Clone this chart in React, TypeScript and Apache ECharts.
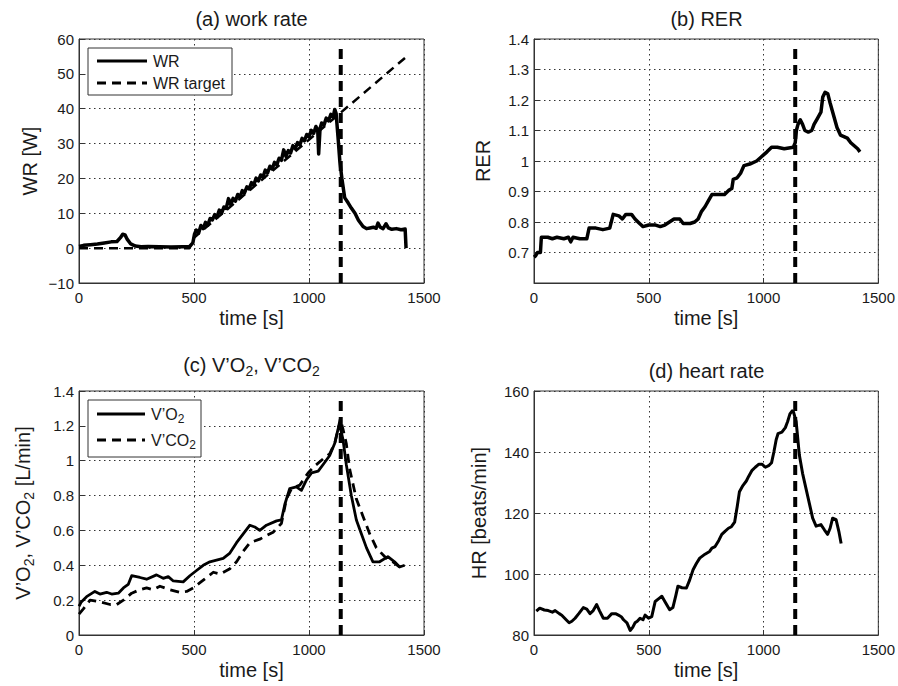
import React, { useEffect, useRef } from "react";
import * as echarts from "echarts";

// ---------- data ----------
const markerTime = 1138;

// (a) work rate
const wrTime = [0, 20, 50, 80, 110, 140, 165, 180, 190, 200, 210, 225, 245, 270, 300, 350, 400, 450, 480, 495, 502,
  510, 520, 530, 540, 550, 560, 570, 580, 590, 600, 610, 620, 630, 640, 650, 660, 670, 680, 690, 700, 710, 720, 730, 740,
  750, 760, 770, 780, 790, 800, 810, 820, 830, 840, 850, 860, 870, 880, 890, 900, 910, 920, 930, 940, 950, 960, 970, 980,
  990, 1000, 1010, 1020, 1030, 1038, 1042, 1048, 1055, 1065, 1075, 1085, 1095, 1105, 1112, 1118,
  1126, 1134, 1143, 1155, 1170, 1184, 1200, 1215, 1235, 1250, 1265, 1280, 1292, 1300, 1310, 1322, 1335, 1345,
  1360, 1380, 1400, 1418, 1422];
const wrValue = [0.5, 0.8, 1.0, 1.2, 1.5, 1.8, 1.9, 3.0, 4.0, 3.8, 2.5, 1.2, 0.6, 0.4, 0.5, 0.4, 0.3, 0.4, 0.4, 1.5, 4.0,
  5.2, 4.3, 6.5, 5.6, 7.4, 6.6, 8.5, 8.1, 9.6, 8.9, 10.9, 10.0, 11.8, 11.4, 14.2, 12.4, 14.3, 13.5, 15.4, 14.6, 16.5, 15.9,
  17.6, 17.0, 18.8, 18.1, 20.1, 19.3, 21.0, 20.4, 22.4, 21.6, 23.5, 22.7, 24.6, 23.9, 25.8, 25.2, 28.2, 26.3, 28.0, 27.3,
  29.4, 28.5, 30.3, 29.6, 31.5, 30.8, 32.6, 31.9, 33.8, 32.9, 34.9, 33.8, 27.0, 34.3, 35.9, 35.3, 37.3, 36.5, 38.4, 37.6,
  39.8, 38.6,
  32.0, 25.0, 20.0, 14.5, 13.0, 11.5, 10.0, 8.0, 6.2, 5.6, 5.8, 6.0, 5.7, 7.2, 6.0, 5.6, 7.0, 5.8,
  5.4, 5.6, 5.3, 5.5, 0];
const wrTargetTime = [0, 480, 500, 1425];
const wrTargetValue = [0, 0, 3, 55];
const wrMarkerRange = [-10, 57.5];

// (b) RER
const rerTime = [0, 8, 15, 28, 32, 60, 80, 100, 130, 150, 160, 170, 200, 230, 240, 270, 300, 330, 345, 370, 385, 400, 425,
  440, 460, 475, 500, 530, 550, 570, 590, 610, 635, 650, 680, 700, 715, 730, 745, 760, 775, 800, 830, 850, 862, 868, 885,
  900, 915, 940, 970, 985, 1000, 1015, 1035, 1060, 1090, 1130, 1138, 1143, 1150, 1160, 1170, 1180, 1195, 1210, 1220, 1235,
  1250, 1258, 1268, 1280, 1290, 1305, 1320, 1335, 1350, 1365, 1380, 1395, 1410, 1420];
const rerValue = [0.685, 0.69, 0.7, 0.7, 0.75, 0.75, 0.745, 0.75, 0.745, 0.75, 0.735, 0.75, 0.745, 0.745, 0.78, 0.78, 0.775,
  0.78, 0.825, 0.82, 0.81, 0.825, 0.825, 0.81, 0.795, 0.785, 0.79, 0.79, 0.785, 0.79, 0.8, 0.81, 0.81, 0.795, 0.795, 0.8,
  0.81, 0.835, 0.85, 0.87, 0.89, 0.89, 0.89, 0.905, 0.91, 0.94, 0.945, 0.96, 0.985, 0.99, 1.0, 1.01, 1.02, 1.03, 1.045,
  1.045, 1.04, 1.045, 1.06, 1.1, 1.12, 1.135, 1.12, 1.1, 1.095, 1.1, 1.12, 1.14, 1.16, 1.21, 1.225, 1.22, 1.19, 1.15, 1.11,
  1.085, 1.08, 1.075, 1.06, 1.05, 1.04, 1.03];
const rerMarkerRange = [0.6, 1.38];

// (c) V'O2, V'CO2
const vo2Time = [0, 10, 33, 69, 91, 120, 142, 171, 193, 214, 229, 265, 294, 337, 366, 388, 410, 453, 482, 511, 540, 569,
  598, 627, 656, 685, 714, 743, 764, 786, 815, 859, 880, 895, 916, 945, 967, 989, 1011, 1040, 1068, 1090, 1112, 1126, 1133,
  1148, 1162, 1184, 1206, 1228, 1250, 1278, 1307, 1343, 1372, 1394, 1416];
const vo2Value = [0.165, 0.19, 0.22, 0.25, 0.235, 0.245, 0.235, 0.24, 0.27, 0.29, 0.34, 0.33, 0.32, 0.345, 0.325, 0.335,
  0.31, 0.305, 0.34, 0.37, 0.4, 0.42, 0.43, 0.44, 0.47, 0.53, 0.58, 0.63, 0.62, 0.6, 0.63, 0.655, 0.66, 0.75, 0.84, 0.85,
  0.83, 0.89, 0.93, 0.94, 0.99, 1.03, 1.1, 1.18, 1.21, 1.12, 0.98, 0.8, 0.66, 0.58, 0.5, 0.42, 0.42, 0.45, 0.42, 0.39, 0.4];
const vco2Time = [0, 19, 48, 91, 135, 164, 193, 229, 265, 294, 323, 352, 395, 439, 468, 497, 526, 555, 584, 613, 656, 685,
  714, 743, 786, 815, 844, 880, 902, 924, 960, 996, 1025, 1061, 1090, 1112, 1126, 1136, 1148, 1162, 1177, 1206, 1235, 1264,
  1293, 1336, 1365, 1394, 1416];
const vco2Value = [0.12, 0.15, 0.2, 0.19, 0.175, 0.175, 0.2, 0.24, 0.26, 0.27, 0.26, 0.28, 0.26, 0.245, 0.25, 0.27, 0.3,
  0.33, 0.36, 0.35, 0.38, 0.42, 0.48, 0.53, 0.55, 0.57, 0.59, 0.64, 0.78, 0.84, 0.86, 0.93, 0.97, 1.01, 1.04, 1.1, 1.18,
  1.24, 1.18, 1.1, 0.95, 0.78, 0.68, 0.58, 0.5, 0.44, 0.42, 0.39, 0.4];
const gasMarkerRange = [0, 1.35];

// (d) heart rate
const hrTime = [10, 25, 45, 62, 80, 92, 110, 121, 140, 153, 165, 179, 195, 215, 230, 244, 258, 273, 285, 302, 320, 339, 355,
  368, 380, 390, 405, 419, 430, 440, 450, 462, 475, 484, 499, 513, 528, 545, 557, 570, 591, 605, 618, 627, 645, 664, 678,
  693, 708, 722, 745, 765, 775, 789, 805, 818, 832, 847, 860, 874, 885, 895, 910, 925, 935, 950, 964, 980, 993, 1008, 1022,
  1035, 1045, 1055, 1063, 1080, 1095, 1105, 1115, 1125, 1131, 1142, 1156, 1170, 1185, 1200, 1214, 1229, 1250, 1265, 1279,
  1290, 1301, 1316, 1328, 1338];
const hrValue = [87.8, 88.8, 88.2, 88, 87.5, 88, 87, 86.5, 85, 84, 84.5, 85.5, 87, 89, 88.5, 87, 88, 90, 88, 85.5, 85.5, 87,
  87, 86.5, 86, 85, 84, 81.5, 82.5, 84, 84.5, 85.5, 85, 86.5, 85.5, 86, 91, 92, 92.7, 91, 88.3, 89, 93, 96, 95.5, 95.4, 98,
  101.4, 103.5, 105.2, 106.5, 107.4, 108.5, 109, 111, 113, 114, 115, 115.5, 117, 122, 127, 129, 130.5, 132, 134, 135, 136,
  136, 135, 135.5, 136.5, 140, 144, 146, 146.5, 148, 150, 152.5, 153.5, 153, 150, 139, 133, 128, 123, 118.3, 115.7, 116.2,
  114.5, 113, 115, 118.3, 117.8, 114, 110];
const hrMarkerRange = [80, 157];

// ---------- helpers ----------
const FONT = "'Liberation Sans', Arial, Helvetica, sans-serif";
const pairs = (t: number[], v: number[]) => t.map((x, i) => [x, v[i]]);
const vline = (r: number[]) => [[markerTime, r[0]], [markerTime, r[1]]];

const grids = [
  { left: 79, top: 39, width: 345, height: 244 },
  { left: 534, top: 39, width: 345, height: 244 },
  { left: 79, top: 391, width: 345, height: 244 },
  { left: 534, top: 391, width: 345, height: 244 },
];

const axisColor = "#333";
const labelColor = "#1a1a1a";
const split = { show: true, lineStyle: { color: "#333", type: [1.5, 3.5], width: 1 } };
const subRich = {
  s: { fontSize: 14, fontFamily: FONT, lineHeight: 14, verticalAlign: "bottom", color: labelColor },
};

function xAxisFor(i: number) {
  return {
    type: "value",
    gridIndex: i,
    min: 0,
    max: 1500,
    interval: 500,
    name: "time [s]",
    nameLocation: "middle",
    nameGap: 25,
    nameTextStyle: { fontSize: 20, fontFamily: FONT, color: labelColor },
    axisLine: { show: true, onZero: false, lineStyle: { color: axisColor, width: 1 } },
    axisTick: { show: true, inside: true, length: 5, lineStyle: { color: axisColor } },
    axisLabel: { fontSize: 15, fontFamily: FONT, color: labelColor, margin: 7, formatter: (v: number) => String(Math.round(v)) },
    splitLine: split,
  };
}

function yAxisFor(i: number, min: number, max: number, interval: number, name: string, gap: number, fmt: (v: number) => string, showMin = true) {
  return {
    type: "value",
    gridIndex: i,
    min,
    max,
    interval,
    name,
    nameLocation: "middle",
    nameGap: gap,
    nameTextStyle: { fontSize: 20, fontFamily: FONT, color: labelColor, lineHeight: 26, rich: subRich },
    axisLine: { show: true, onZero: false, lineStyle: { color: axisColor, width: 1 } },
    axisTick: { show: true, inside: true, length: 5, lineStyle: { color: axisColor } },
    axisLabel: { fontSize: 15, fontFamily: FONT, color: labelColor, margin: 5, formatter: fmt, showMinLabel: showMin },
    splitLine: split,
  };
}

function lineSeries(name: string, data: number[][], i: number, width: number, dash?: number[]) {
  return {
    type: "line",
    name,
    data,
    xAxisIndex: i,
    yAxisIndex: i,
    symbol: "none",
    showSymbol: false,
    clip: true,
    lineStyle: { color: "#000", width, type: dash ? dash : "solid", cap: "butt", join: "round" },
  };
}

function titleText(x: number, y: number, text: string) {
  return {
    type: "text",
    x,
    y,
    z: 100,
    style: {
      text,
      fontSize: 20,
      fontFamily: FONT,
      fill: labelColor,
      align: "center",
      textAlign: "center",
      verticalAlign: "middle",
      textVerticalAlign: "middle",
      lineHeight: 26,
      rich: { s: { fontSize: 14, fontFamily: FONT, lineHeight: 14, verticalAlign: "bottom", fill: labelColor, color: labelColor } },
    },
  };
}

function legendText(x: number, y: number, text: string) {
  return {
    type: "text",
    x,
    y,
    z: 101,
    style: {
      text,
      fontSize: 16,
      fontFamily: FONT,
      fill: labelColor,
      align: "left",
      textAlign: "left",
      verticalAlign: "middle",
      textVerticalAlign: "middle",
      lineHeight: 22,
      rich: { s: { fontSize: 12, fontFamily: FONT, lineHeight: 12, verticalAlign: "bottom", fill: labelColor, color: labelColor } },
    },
  };
}

function legendLine(x1: number, x2: number, y: number, dash?: number[]) {
  return {
    type: "line",
    z: 101,
    shape: { x1, y1: y, x2, y2: y },
    style: { stroke: "#000", lineWidth: 3, lineDash: dash || null },
  };
}

const fmt1 = (v: number) => String(+v.toFixed(1));
const fmtInt = (v: number) => (v < 0 ? "\u2212" + Math.abs(Math.round(v)) : String(Math.round(v)));

export default function App() {
  const ref = useRef<HTMLDivElement>(null);
  useEffect(() => {
    if (!ref.current) return;
    const chart = echarts.init(ref.current, undefined, { renderer: "svg" });
    const dash = [9, 6];
    const markDash = [10, 6];
    chart.setOption({
      animation: false,
      backgroundColor: "#fff",
      textStyle: { fontFamily: FONT },
      grid: grids.map((g) => ({ ...g, show: true, borderColor: axisColor, borderWidth: 1, backgroundColor: "transparent" })),
      xAxis: [0, 1, 2, 3].map((i) => xAxisFor(i)),
      yAxis: [
        yAxisFor(0, -10, 60, 10, "WR [W]", 36, fmtInt),
        yAxisFor(1, 0.6, 1.4, 0.1, "RER", 38, fmt1, false),
        yAxisFor(2, 0, 1.4, 0.2, "V\u2019O{s|2}, V\u2019CO{s|2} [L/min]", 43, fmt1),
        yAxisFor(3, 80, 160, 20, "HR [beats/min]", 42, fmtInt),
      ],
      series: [
        lineSeries("WR", pairs(wrTime, wrValue), 0, 3.5),
        lineSeries("WR target", pairs(wrTargetTime, wrTargetValue), 0, 2.5, dash),
        lineSeries("marker a", vline(wrMarkerRange), 0, 4, markDash),
        lineSeries("RER", pairs(rerTime, rerValue), 1, 3.5),
        lineSeries("marker b", vline(rerMarkerRange), 1, 4, markDash),
        lineSeries("V'O2", pairs(vo2Time, vo2Value), 2, 2.8),
        lineSeries("V'CO2", pairs(vco2Time, vco2Value), 2, 2.8, dash),
        lineSeries("marker c", vline(gasMarkerRange), 2, 4, markDash),
        lineSeries("HR", pairs(hrTime, hrValue), 3, 3),
        lineSeries("marker d", vline(hrMarkerRange), 3, 4, markDash),
      ],
      graphic: [
        titleText(251.5, 19, "(a) work rate"),
        titleText(706.5, 19, "(b) RER"),
        titleText(251.5, 365, "(c) V\u2019O{s|2}, V\u2019CO{s|2}"),
        titleText(706.5, 371, "(d) heart rate"),
        // legend (a)
        { type: "rect", z: 100, shape: { x: 88, y: 48, width: 144, height: 47 }, style: { fill: "#fff", stroke: axisColor, lineWidth: 1 } },
        legendLine(97, 147, 61),
        legendLine(97, 147, 83, [9, 6]),
        legendText(153, 61, "WR"),
        legendText(153, 83, "WR target"),
        // legend (c)
        { type: "rect", z: 100, shape: { x: 88, y: 400, width: 113, height: 57 }, style: { fill: "#fff", stroke: axisColor, lineWidth: 1 } },
        legendLine(97, 145, 414),
        legendLine(97, 145, 440, [9, 6]),
        legendText(151, 414, "V\u2019O{s|2}"),
        legendText(151, 440, "V\u2019CO{s|2}"),
      ],
    });
    return () => chart.dispose();
  }, []);
  return <div ref={ref} style={{ position: "fixed", left: 0, top: 0, width: 898, height: 686, background: "#fff" }} />;
}
